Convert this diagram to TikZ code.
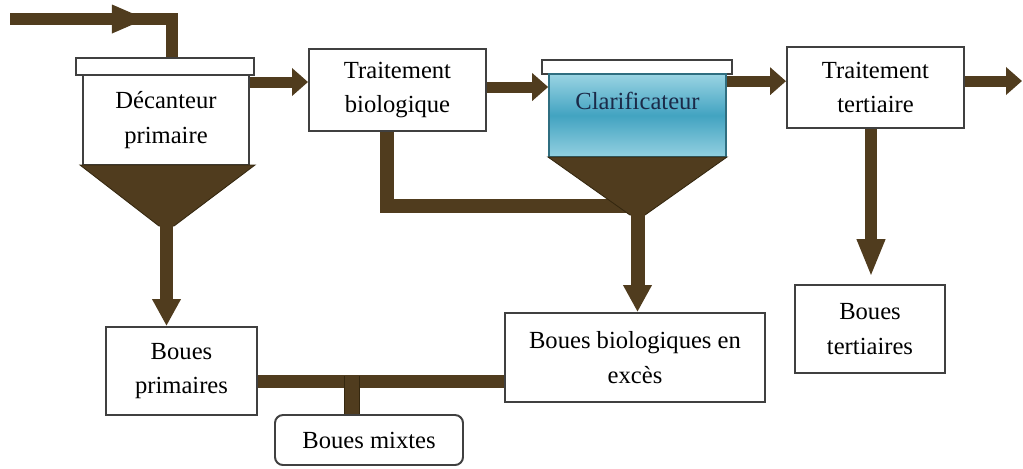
\documentclass[tikz,border=0pt]{standalone}
\usepackage{fontspec}
\setmainfont{Liberation Serif}
\newfontfamily\labelfont{Liberation Serif}
\usetikzlibrary{arrows.meta, calc, positioning}
\definecolor{mud}{HTML}{503C1E}
\definecolor{mudedge}{HTML}{34270F}
\definecolor{boxgray}{HTML}{404040}
\definecolor{clartop}{HTML}{9AD4E3}
\definecolor{clarmid}{HTML}{42A3C1}
\definecolor{clarbot}{HTML}{93D0E0}
\definecolor{clarline}{HTML}{2F6E80}
\definecolor{clarink}{HTML}{1B2A48}
\tikzset{
  box/.style={draw=boxgray, line width=1.4pt, fill=white, inner sep=0pt, align=center,
    font=\labelfont\fontsize{17.5}{24.5}\selectfont},
  lid/.style={draw=boxgray, line width=1.4pt, fill=white, inner sep=0pt},
  flow/.style={draw=mud, line width=2.75mm, -{Triangle[length=4mm,width=6.75mm]}},
  drop/.style={draw=mud, line width=3.25mm, -{Triangle[length=6.75mm,width=6.75mm]}},
  pipe/.style={draw=mud, line width=3.5mm},
  cone/.style={fill=mud, draw=mudedge, line width=0.6pt}
}
\begin{document}
\begin{tikzpicture}[x=0.25mm, y=-0.25mm]
  \useasboundingbox (0,0) rectangle (1023,468);
  %Decanteur primaire
  \node[lid, minimum width=44.5mm, minimum height=4.25mm] (declid) at (165,66.5) {};
  \node[box, minimum width=41.5mm, minimum height=22.5mm] (dec) at (166,120) {Décanteur\\primaire};
  %Traitement biologique
  \node[box, minimum width=44.25mm, minimum height=20.5mm] (bio) at (397.5,90) {Traitement\\biologique};
  %Clarificateur
  \node[lid, minimum width=47.5mm, minimum height=3.5mm] (clarlid) at (637,67) {};
  \node[draw=clarline, line width=1.2pt, inner sep=0pt, minimum width=44.25mm, minimum height=20.75mm,
    top color=clartop, bottom color=clarbot, middle color=clarmid] (clar) at (637.5,115.5) {};
  \node[font=\labelfont\fontsize{17.5}{24.5}\selectfont, text=clarink] (clartxt) at ($(clar.north)+(0,28)$) {Clarificateur};
  %Traitement tertiaire
  \node[box, minimum width=44.25mm, minimum height=20.25mm] (tert) at (875.5,87.5) {Traitement\\tertiaire};
  % Boues
  \node[box, minimum width=37.5mm, minimum height=22mm] (btert) at (870,329) {Boues\\tertiaires};
  \node[box, minimum width=37.75mm, minimum height=22mm] (bprim) at (181.5,371) {Boues\\primaires};
  \node[box, minimum width=65mm, minimum height=22.25mm] (bbio) at (635,357.5) {Boues biologiques en\\excès};
  \node[box, rounded corners=2mm, minimum width=47mm, minimum height=12.5mm] (bmix) at (369,440) {Boues mixtes};

  % Inlet
  \coordinate (in) at (10,19);
  \coordinate (inturn) at (171.5,19);
  \draw[pipe, line width=3mm] (in) -- (inturn) -- (inturn |- declid.north);
  \draw[flow, line width=3mm, -{Triangle[length=8.75mm,width=6.5mm]}] (in) -- (147,19);
  % Main line
  \draw[flow] ($(dec.north east)+(0,8)$) coordinate (d1) -- (d1 -| bio.west);
  \draw[flow] ($(bio.east)+(0,-3)$) coordinate (b1) -- (b1 -| clar.west);
  \draw[flow] ($(clar.north east)+(0,8)$) coordinate (c1) -- (c1 -| tert.west);
  \draw[flow] ($(tert.east)+(0,-6.5)$) coordinate (t1) -- (t1 -| 1022,0) coordinate (out);
  % Recirculation
  \draw[pipe] ($(bio.south)+(-11,0)$) |- (637,205.5);
  % Cones
  \draw[cone] (80,165) -- (255,165) -- (174,226) -- (159,226) -- cycle;
  \draw[cone] (548,157) -- (727,157) -- (645,215) -- (630,215) -- cycle;
  \coordinate (decapex) at (166.5,224);
  \coordinate (clarapex) at (637.5,212);
  % Sludge
  \draw[drop] (decapex) -- (decapex |- bprim.north);
  \draw[drop, line width=3.5mm] (clarapex) -- (clarapex |- bbio.north);
  \draw[drop, line width=3mm, -{Triangle[length=9.5mm,width=6.5mm]}]
    ($(tert.south)+(-4.5,0)$) coordinate (t2) -- ($(t2 |- btert.north)+(0,-7)$);
  \draw[pipe, line width=3.25mm] ($(bprim.east)+(0,10.5)$) coordinate (m1) -- (m1 -| bbio.west);
  \draw[draw=mudedge, line width=0.5pt, double=mud, double distance=3.5mm]
    ($(bmix.north)+(-17,0)$) coordinate (m2) -- ($(m2 |- m1)+(0,-6)$);
\end{tikzpicture}
\end{document}
